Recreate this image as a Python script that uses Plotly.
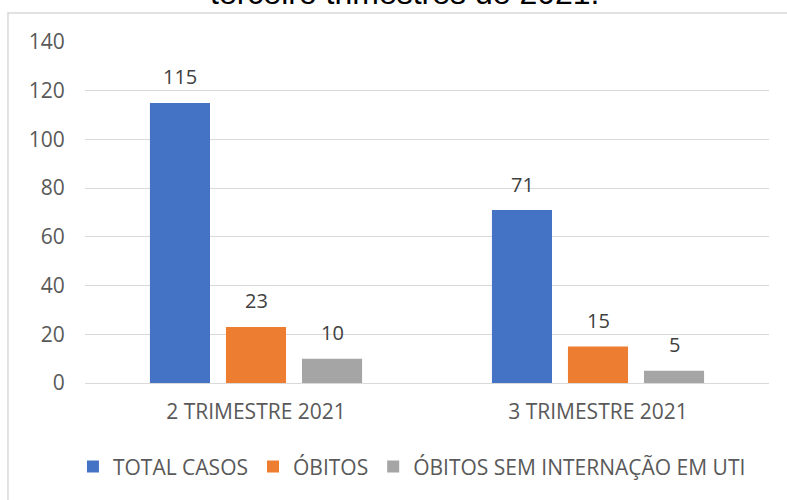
import plotly.graph_objects as go

categories = ["2 TRIMESTRE 2021", "3 TRIMESTRE 2021"]
series_names = ["TOTAL CASOS", "ÓBITOS", "ÓBITOS SEM INTERNAÇÃO EM UTI"]
total_casos = [115, 71]
obitos = [23, 15]
obitos_sem_uti = [10, 5]
colors = ["#4472C4", "#ED7D31", "#A5A5A5"]
y_ticks = [0, 20, 40, 60, 80, 100, 120, 140]

font_family = "Open Sans, Noto Sans, DejaVu Sans, sans-serif"
text_color = "#595959"

fig = go.Figure()
annotations = []
series = [total_casos, obitos, obitos_sem_uti]
for i, (name, vals, col) in enumerate(zip(series_names, series, colors)):
    fig.add_trace(go.Bar(
        x=categories, y=vals, name=name, marker_color=col,
        marker_line_width=0, hoverinfo="skip",
    ))
    for c, v in zip(categories, vals):
        annotations.append(dict(
            x=c, y=v, xref="x", yref="y", text=str(v), showarrow=False,
            xanchor="center", yanchor="middle", xshift=(i - 1) * 76, yshift=26,
            font=dict(family=font_family, size=20, color="#404040"),
        ))

annotations.append(dict(
    text="terceiro trimestres de 2021.", xref="paper", yref="paper",
    x=0.468, y=1.144, xanchor="center", yanchor="middle", showarrow=False,
    font=dict(family="Liberation Sans, Arial, sans-serif", size=32, color="#000000")))

fig.update_layout(
    width=787, height=500,
    margin=dict(l=85, r=18, t=42, b=117, autoexpand=False),
    paper_bgcolor="white", plot_bgcolor="white",
    barmode="group", bargap=0.333, bargroupgap=0.21,
    font=dict(family=font_family, size=21, color=text_color),
    showlegend=True,
    legend=dict(orientation="h", x=0.478, xanchor="center", y=-0.246, yanchor="middle",
                font=dict(family=font_family, size=21, color=text_color),
                itemwidth=30, traceorder="normal"),
    xaxis=dict(showline=False, showgrid=False, ticks="outside", ticklen=10,
               tickcolor="rgba(0,0,0,0)", tickfont=dict(size=21, color=text_color)),
    yaxis=dict(range=[0, 140], tickvals=y_ticks, showgrid=True, gridcolor="#D9D9D9",
               gridwidth=1, zeroline=True, zerolinecolor="#D9D9D9", zerolinewidth=1,
               showline=False, ticks="outside", ticklen=15, tickcolor="rgba(0,0,0,0)",
               tickfont=dict(size=21, color=text_color)),
    shapes=[dict(type="rect", xref="paper", yref="paper",
                 x0=-0.1126, x1=1.04, y0=-0.4, y1=1.085,
                 line=dict(color="#D9D9D9", width=1.5), fillcolor="rgba(0,0,0,0)", layer="below")],
    annotations=annotations,
)

fig.write_html("out.html", config={"displayModeBar": False},
               post_script="document.body.style.margin='0';document.body.style.padding='0';")
